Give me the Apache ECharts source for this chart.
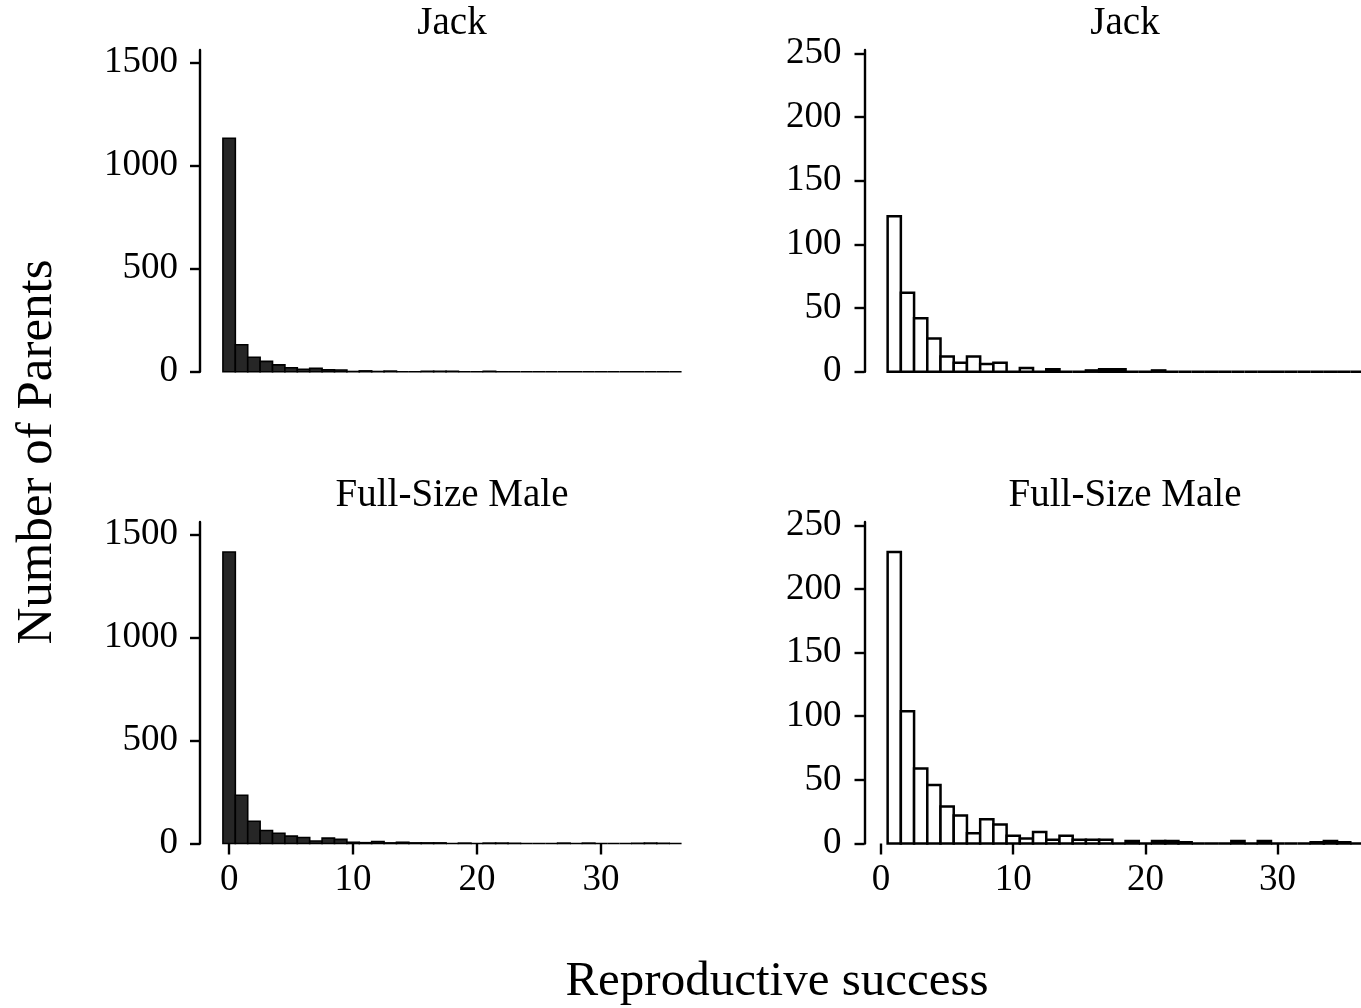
<!DOCTYPE html>
<html>
<head>
<meta charset="utf-8">
<script src="https://cdn.jsdelivr.net/npm/echarts@6/dist/echarts.min.js"></script>
<style>
html,body{margin:0;padding:0;background:#fff;}
#chart{width:1361px;height:1008px;}
</style>
</head>
<body>
<div id="chart"></div>
<script>
// ---- data ----
const panelTitles = ["Jack", "Full-Size Male"];
const xTitle = "Reproductive success";
const yTitle = "Number of Parents";

const leftBins = [0,1,2,3,4,5,6,7,8,9,10,11,12,13,14,15,16,17,18,19,20,21,22,23,24,25,26,27,28,29,30,31,32,33,34,35,36];
const rightBins = [1,2,3,4,5,6,7,8,9,10,11,12,13,14,15,16,17,18,19,20,21,22,23,24,25,26,27,28,29,30,31,32,33,34,35,36,37];

// left column: all parents (dark bars)
const jackAll = [1133,131,70,50,33,19,12,16,9,8,1,4,1,3,0,0,2,2,2,0,0,2,0,0,0,0,0,0,0,0,0,0,0,0,0,0,0];
const fullAll = [1415,234,108,63,50,36,29,12,26,20,6,4,9,3,6,3,3,3,0,2,0,2,2,1,0,0,0,2,0,2,0,0,0,1,2,1,0];
// right column: successful parents only (open bars)
const jackSucc = [122,62,42,26,12,7,12,6,7,0,3,0,2,0,0,1,2,2,0,0,1,0,0,0,0,0,0,0,0,0,0,0,0,0,0,0,0];
const fullSucc = [229,104,59,46,29,22,8,19,15,6,4,9,3,6,3,3,3,0,2,0,2,2,1,0,0,0,2,0,2,0,0,0,1,2,1,0,0];

const xTicks = [0,10,20,30];
const leftYTicks = [0,500,1000,1500];
const rightYTicks = [0,50,100,150,200,250];

// ---- chart ----
const FONT = "'Liberation Serif', 'DejaVu Serif', serif";
const chart = echarts.init(document.getElementById('chart'), null, {renderer:'canvas'});

function histRender(fill, stroke, lw){
  return function(params, api){
    const x = api.value(0), y = api.value(1);
    const p0 = api.coord([x - 0.5, 0]);
    const p1 = api.coord([x + 0.5, y]);
    return {
      type:'rect',
      shape:{x:p0[0], y:p1[1], width:p1[0]-p0[0], height:p0[1]-p1[1]},
      style:{fill:fill, stroke:stroke, lineWidth:lw}
    };
  };
}

const grids = [
  {left:200, top:50, width:504.5, height:321.7},
  {left:864.5, top:50, right:0, height:321.7},
  {left:200, top:522, width:504.5, height:321.5},
  {left:864.5, top:522, right:0, height:321.5}
];

const plain = v => String(v);

function xAxisCfg(gi, min, max, bottom){
  return {
    type:'value', gridIndex:gi, min:min, max:max,
    axisLine:{show:false, onZero:false},
    splitLine:{show:false},
    axisTick:{show:bottom, customValues:xTicks, length:11, lineStyle:{color:'#000', width:2.4}},
    axisLabel:{show:bottom, customValues:xTicks, margin:18, fontSize:37, fontFamily:FONT, color:'#000', formatter:plain}
  };
}
function yAxisCfg(gi, max, ticks, margin){
  return {
    type:'value', gridIndex:gi, min:0, max:max,
    axisLine:{show:true, onZero:false, lineStyle:{color:'#000', width:2.4}},
    splitLine:{show:false},
    axisTick:{show:true, customValues:ticks, length:10, lineStyle:{color:'#000', width:2.4}},
    axisLabel:{customValues:ticks, margin:margin, fontSize:37, fontFamily:FONT, color:'#000', formatter:plain, padding:[4,0,0,0]}
  };
}

function pairs(bins, vals){ return bins.map((b,i)=>[b, vals[i]]); }

const option = {
  backgroundColor:'#fff',
  animation:false,
  grid: grids,
  xAxis:[
    xAxisCfg(0, -2.35, 38.35, false),
    xAxisCfg(1, -1.25, 36.31, false),
    xAxisCfg(2, -2.35, 38.35, true),
    xAxisCfg(3, -1.25, 36.31, true)
  ],
  yAxis:[
    yAxisCfg(0, 1561, leftYTicks, 22),
    yAxisCfg(1, 252.6, rightYTicks, 23),
    yAxisCfg(2, 1561, leftYTicks, 22),
    yAxisCfg(3, 252.6, rightYTicks, 23)
  ],
  series:[
    {type:'custom', xAxisIndex:0, yAxisIndex:0, data:pairs(leftBins, jackAll), renderItem:histRender('#262626','#000',1.6), clip:false},
    {type:'custom', xAxisIndex:1, yAxisIndex:1, data:pairs(rightBins, jackSucc), renderItem:histRender('#fff','#000',2.5), clip:false},
    {type:'custom', xAxisIndex:2, yAxisIndex:2, data:pairs(leftBins, fullAll), renderItem:histRender('#262626','#000',1.6), clip:false},
    {type:'custom', xAxisIndex:3, yAxisIndex:3, data:pairs(rightBins, fullSucc), renderItem:histRender('#fff','#000',2.5), clip:false}
  ],
  graphic:[
    {type:'text', x:452, y:24, style:{text:panelTitles[0], fontSize:39, fontFamily:FONT, fill:'#000', align:'center', verticalAlign:'middle'}},
    {type:'text', x:1125, y:24, style:{text:panelTitles[0], fontSize:39, fontFamily:FONT, fill:'#000', align:'center', verticalAlign:'middle'}},
    {type:'text', x:452, y:496, style:{text:panelTitles[1], fontSize:39, fontFamily:FONT, fill:'#000', align:'center', verticalAlign:'middle'}},
    {type:'text', x:1125, y:496, style:{text:panelTitles[1], fontSize:39, fontFamily:FONT, fill:'#000', align:'center', verticalAlign:'middle'}},
    {type:'text', x:777, y:982, style:{text:xTitle, fontSize:49, fontFamily:FONT, fill:'#000', align:'center', verticalAlign:'middle'}},
    {type:'text', x:38, y:452, rotation:Math.PI/2, style:{text:yTitle, fontSize:51, fontFamily:FONT, fill:'#000', align:'center', verticalAlign:'middle'}}
  ]
};
chart.setOption(option);
</script>
</body>
</html>
